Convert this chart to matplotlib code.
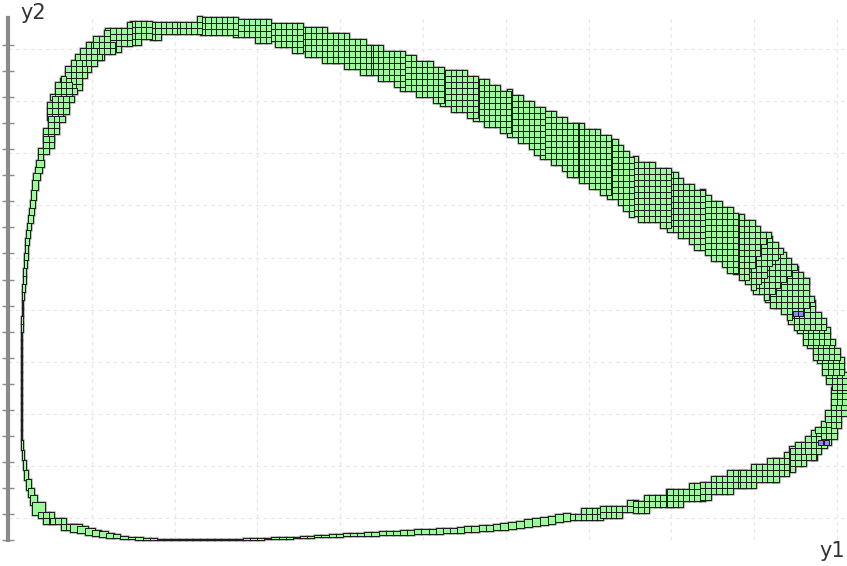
import numpy as np
import matplotlib
matplotlib.use("Agg")
import matplotlib.pyplot as plt
from matplotlib.patches import Rectangle
from matplotlib.collections import PatchCollection
from matplotlib.path import Path

# Band of boxes around the limit cycle.
# inner edge = side facing the centre of the cycle, outer edge = other side
in_y1 = [0.151, 0.167, 0.205, 0.266, 0.338, 0.435, 0.592, 0.797, 1.039, 1.341,
         1.703, 2.307, 2.911, 3.514, 4.118, 4.722, 5.326, 5.930, 6.413, 6.775,
         7.138, 7.536, 7.947, 8.345, 8.829, 9.227, 9.432, 9.614, 9.734, 9.855,
         9.928, 9.928, 9.867, 9.758, 9.638, 9.517, 9.408, 9.263, 9.130, 8.986,
         8.889, 8.744, 8.345, 7.947, 7.536, 7.222, 6.812, 6.413, 6.014, 5.604,
         5.205, 4.722, 4.324, 3.913, 3.514, 3.152, 2.705, 2.307, 2.005, 1.703,
         1.461, 1.280, 1.099, 0.954, 0.833, 0.761, 0.664, 0.556, 0.423, 0.350,
         0.314, 0.254, 0.217, 0.175, 0.157, 0.153, 0.152]
in_y2 = [2.111, 1.727, 1.344, 0.998, 0.729, 0.576, 0.441, 0.307, 0.192, 0.077,
         0.029, 0.019, 0.029, 0.067, 0.125, 0.182, 0.230, 0.298, 0.422, 0.518,
         0.614, 0.729, 0.921, 1.113, 1.344, 1.536, 1.727, 1.919, 2.111, 2.342,
         2.591, 2.879, 3.167, 3.455, 3.743, 4.031, 4.223, 4.453, 4.607, 4.798,
         4.990, 5.125, 5.566, 5.988, 6.200, 6.622, 6.967, 7.390, 7.812, 8.100,
         8.388, 8.695, 8.925, 9.155, 9.347, 9.539, 9.693, 9.731, 9.712, 9.597,
         9.501, 9.367, 9.213, 8.983, 8.637, 8.445, 8.061, 7.678, 7.294, 6.910,
         6.526, 5.950, 5.374, 4.607, 3.839, 3.071, 2.495]
out_y1 = [0.139, 0.155, 0.181, 0.229, 0.278, 0.350, 0.495, 0.737, 1.002, 1.341,
          1.703, 2.307, 2.911, 3.514, 4.118, 4.722, 5.326, 5.930, 6.413, 6.775,
          7.138, 7.536, 7.947, 8.345, 8.829, 9.227, 9.432, 9.698, 9.891, 10.036,
          10.121, 10.121, 10.109, 10.060, 9.988, 9.915, 9.698, 9.650, 9.469, 9.312,
          9.155, 8.744, 8.345, 7.947, 7.536, 7.222, 6.812, 6.413, 6.014, 5.604,
          5.205, 4.722, 4.324, 3.913, 3.514, 3.152, 2.705, 2.307, 2.005, 1.703,
          1.461, 1.159, 0.954, 0.797, 0.616, 0.495, 0.459, 0.411, 0.350, 0.290,
          0.266, 0.217, 0.181, 0.157, 0.143, 0.141, 0.140]
out_y2 = [2.111, 1.727, 1.344, 0.960, 0.672, 0.480, 0.307, 0.192, 0.096, 0.029,
          0.000, 0.000, 0.000, 0.038, 0.077, 0.096, 0.134, 0.192, 0.288, 0.384,
          0.422, 0.518, 0.633, 0.768, 0.998, 1.113, 1.305, 1.536, 1.823, 2.150,
          2.591, 2.879, 3.167, 3.455, 3.743, 4.031, 4.607, 4.990, 5.278, 5.585,
          5.893, 6.334, 6.718, 7.102, 7.351, 7.774, 8.023, 8.311, 8.637, 8.925,
          9.079, 9.347, 9.539, 9.770, 9.866, 9.962, 10.000, 10.000, 9.981, 9.942,
          9.904, 9.770, 9.539, 9.251, 8.829, 8.445, 8.061, 7.678, 7.294, 6.910,
          6.526, 5.950, 5.374, 4.607, 3.839, 3.071, 2.495]

# the few blue boxes (lower left corners)
blue_y1 = [9.472, 9.532, 9.767, 9.837]
blue_y2 = [4.305, 4.305, 1.823, 1.823]
blue_w = 0.060
blue_h = 0.090

grid_y1 = [1, 2, 3, 4, 5, 6, 7, 8, 9, 10]
grid_y2 = [0.422 + k for k in range(10)]
tick_y2 = [0.5 * k for k in range(20)]

cw, ch = 0.066, 0.115   # box size
n = len(in_y1)

band = np.column_stack([out_y1 + out_y1[:1] + in_y1[:1] + in_y1[::-1],
                        out_y2 + out_y2[:1] + in_y2[:1] + in_y2[::-1]])
band_path = Path(np.vstack([band, band[:1]]), closed=True)


def segment_boxes(i):
    j = (i + 1) % n
    p = np.array([[in_y1[i], in_y2[i]], [out_y1[i], out_y2[i]],
                  [out_y1[j], out_y2[j]], [in_y1[j], in_y2[j]]])

    def size(a, b):
        return np.hypot((a[0] - b[0]) / cw, (a[1] - b[1]) / ch)

    t = max(size(p[0], p[1]), size(p[3], p[2]))
    boxes = []
    if t < 1.6:
        # thin part of the tube: a chain of narrow boxes
        L = max(size(p[0], p[3]), size(p[1], p[2]))
        k = max(1, int(round(L / 1.4)))
        for m in range(k):
            a, b = m / k, (m + 1) / k
            q = np.array([p[0] + (p[3] - p[0]) * a, p[1] + (p[2] - p[1]) * a,
                          p[1] + (p[2] - p[1]) * b, p[0] + (p[3] - p[0]) * b])
            lo, hi = q.min(0), q.max(0)
            boxes.append((lo[0], lo[1], hi[0] - lo[0], hi[1] - lo[1]))
    else:
        path = Path(np.vstack([p, p[:1]]), closed=True)
        lo, hi = p.min(0), p.max(0)
        nx = int(np.ceil((hi[0] - lo[0]) / cw))
        ny = int(np.ceil((hi[1] - lo[1]) / ch))
        for a in range(nx):
            for b in range(ny):
                x = lo[0] + a * cw
                y = lo[1] + b * ch
                cx, cy = min(x + cw / 2, hi[0]), min(y + ch / 2, hi[1])
                probes = [(cx, cy), (cx - 0.4 * cw, cy), (cx + 0.4 * cw, cy),
                          (cx, cy - 0.4 * ch), (cx, cy + 0.4 * ch)]
                if any(path.contains_point(q) for q in probes) and \
                        band_path.contains_point((x + cw / 2, y + ch / 2)):
                    boxes.append((x, y, cw, ch))
    return boxes


boxes = []
for i in range(n):
    boxes += segment_boxes(i)

fig = plt.figure(figsize=(8.47, 5.66), dpi=100)
ax = fig.add_axes([8 / 847, 26 / 566, 839 / 847, 522 / 566])
ax.set_xlim(-0.012, 10.12)
ax.set_ylim(0, 10.02)

halo = PatchCollection([Rectangle((x, y), w, h) for x, y, w, h in boxes],
                       facecolor="none", edgecolor=(0.5, 0.5, 0.5, 0.5),
                       linewidth=2.2, zorder=2, clip_on=False)
ax.add_collection(halo)
green = PatchCollection([Rectangle((x, y), w, h) for x, y, w, h in boxes],
                        facecolor="#98fb98", edgecolor="#1a1a1a",
                        linewidth=0.7, zorder=3, clip_on=False)
ax.add_collection(green)
blue = PatchCollection([Rectangle((x, y), blue_w, blue_h) for x, y in zip(blue_y1, blue_y2)],
                       facecolor="#8c8cff", edgecolor="#1a1a1a",
                       linewidth=0.7, zorder=4, clip_on=False)
ax.add_collection(blue)

for s in ["top", "right", "bottom"]:
    ax.spines[s].set_visible(False)
ax.spines["left"].set_color("#8a8a8a")
ax.spines["left"].set_linewidth(3)

ax.set_xticks([])
ax.set_yticks(tick_y2)
ax.set_yticklabels([])
ax.tick_params(axis="y", which="major", direction="inout", length=8, width=1, color="#8a8a8a")
ax.set_xticks(grid_y1, minor=True)
ax.set_yticks(grid_y2, minor=True)
ax.tick_params(which="minor", length=0)
ax.grid(False, which="major")
ax.grid(True, which="minor", color="#e8e8e8", linestyle=(0, (3, 3)), linewidth=0.9)
ax.set_axisbelow(True)

fig.text(20 / 847, 1 - 3 / 566, "y2", fontsize=15, color="#333333", ha="left", va="top")
fig.text(845 / 847, 1 - 561 / 566, "y1", fontsize=15, color="#333333", ha="right", va="bottom")

fig.savefig("out.png", dpi=100)
